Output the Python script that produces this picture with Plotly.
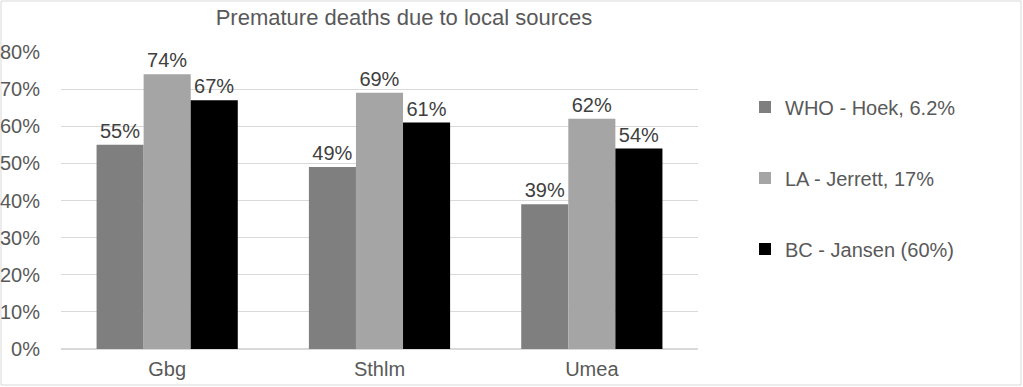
import plotly.graph_objects as go

categories = ["Gbg", "Sthlm", "Umea"]
series_names = ["WHO - Hoek, 6.2%", "LA - Jerrett, 17%", "BC - Jansen (60%)"]
who_hoek = [0.55, 0.49, 0.39]
la_jerrett = [0.74, 0.69, 0.62]
bc_jansen = [0.67, 0.61, 0.54]
colors = ["#7f7f7f", "#a5a5a5", "#000000"]

W, H = 1023, 387
L, R, T, B = 61, 1023 - 698, 52, 387 - 349
pw, ph = W - L - R, H - T - B

fig = go.Figure()
for name, vals, col in zip(series_names, [who_hoek, la_jerrett, bc_jansen], colors):
    fig.add_trace(go.Bar(
        x=categories, y=vals, name=name, legendgroup=name,
        marker=dict(color=col, line=dict(width=0)),
        texttemplate="%{y:.0%}", textposition="outside",
        textfont=dict(size=20, color="#404040", family="Liberation Sans, Arial"),
        cliponaxis=False,
    ))

def px_x(x):
    return (x - L) / pw

def px_y(y):
    return (H - B - y) / ph

fig.update_layout(
    width=W, height=H,
    margin=dict(l=L, r=R, t=T, b=B, autoexpand=False),
    paper_bgcolor="white", plot_bgcolor="white",
    font=dict(family="Liberation Sans, Arial", size=20, color="#595959"),
    title=dict(text="Premature deaths due to local sources", x=404 / W, xanchor="center",
               y=1 - 17 / H, yanchor="middle", xref="container", yref="container",
               font=dict(size=22, color="#595959")),
    barmode="group", bargap=0.335, bargroupgap=0,
    showlegend=True,
    legend=dict(x=px_x(745), xanchor="left", y=px_y(178), yanchor="middle",
                tracegroupgap=42, font=dict(size=20, color="#595959"),
                itemwidth=30, bgcolor="rgba(0,0,0,0)"),
    shapes=[dict(type="rect", xref="paper", yref="paper",
                 x0=px_x(1), x1=px_x(1021), y0=px_y(385), y1=px_y(1),
                 line=dict(color="#d9d9d9", width=1), fillcolor="rgba(0,0,0,0)", layer="below")],
)
fig.update_yaxes(range=[0, 0.8], dtick=0.1, tickformat=".0%", showgrid=True,
                 gridcolor="#d9d9d9", gridwidth=1, zeroline=True, zerolinecolor="#d9d9d9",
                 showline=False, ticks="outside", ticklen=16, tickcolor="rgba(0,0,0,0)",
                 tickfont=dict(size=20, color="#595959"))
fig.update_xaxes(showgrid=False, showline=False, ticks="outside", ticklen=2,
                 tickcolor="rgba(0,0,0,0)", tickfont=dict(size=20, color="#595959"))

fig.write_html("out.html", config={"displayModeBar": False},
               post_script="document.body.style.margin='0';document.body.style.overflow='hidden';")
